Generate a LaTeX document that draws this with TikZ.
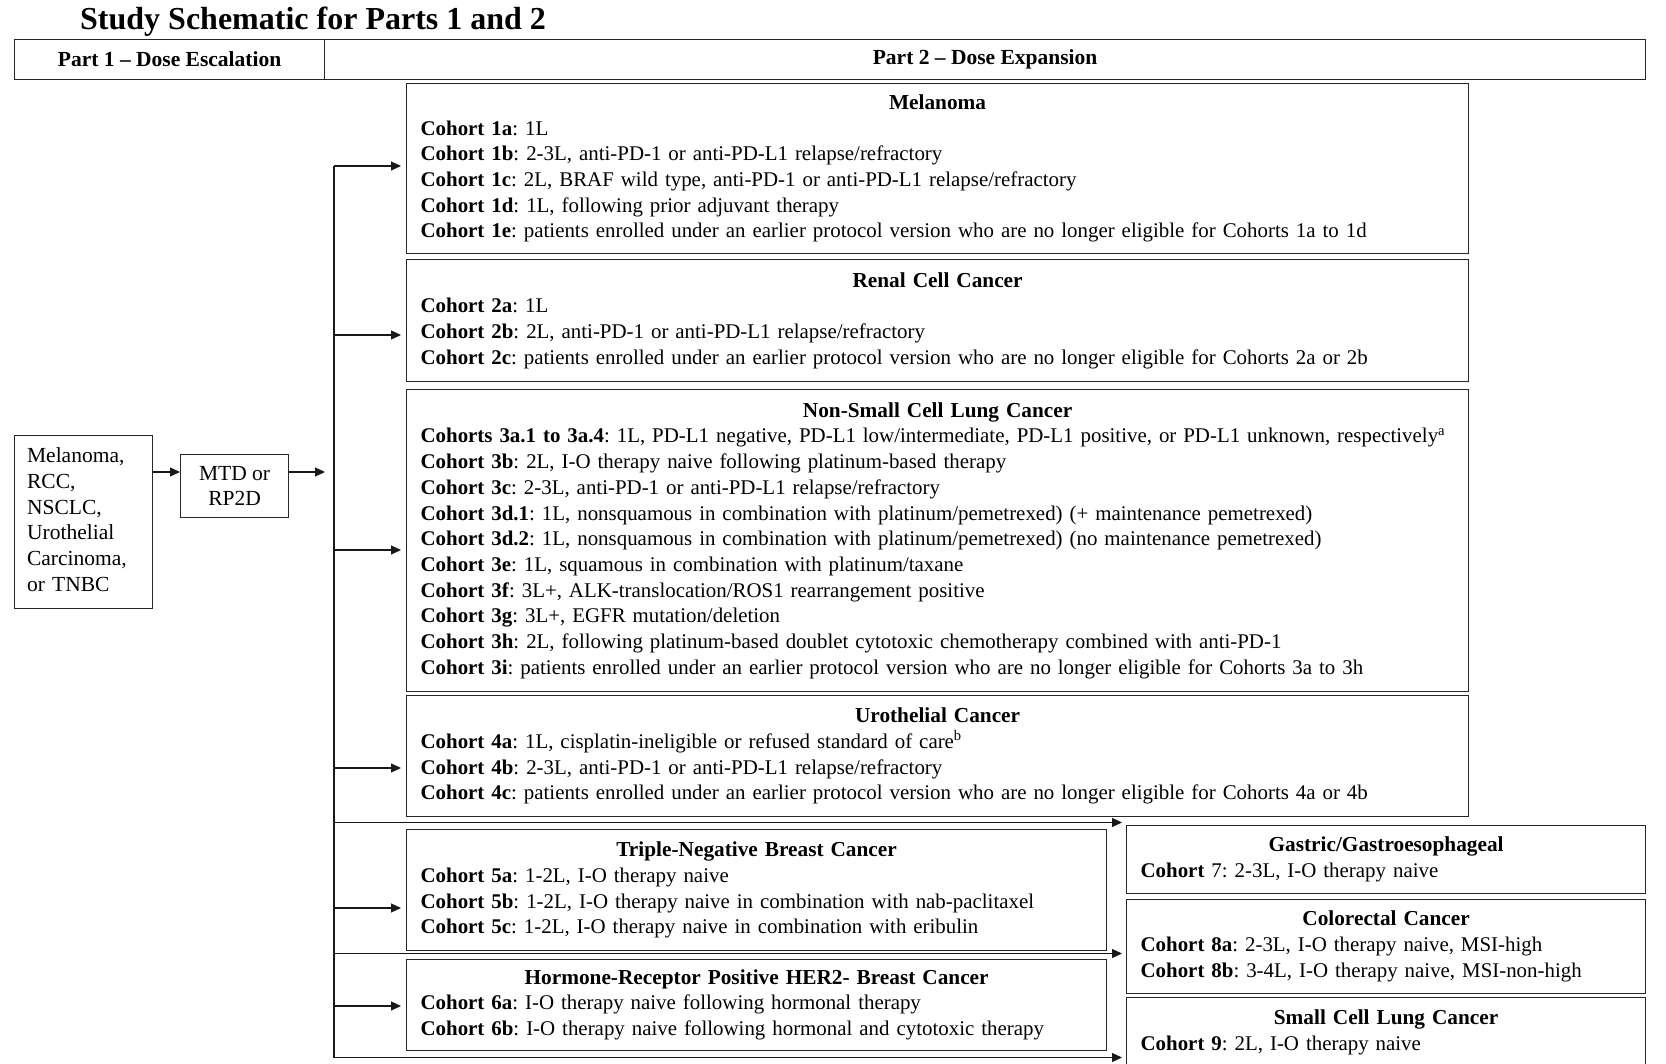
\documentclass[tikz,border=0pt]{standalone}
\usepackage{fontspec}
\setmainfont{Liberation Serif}
\usetikzlibrary{arrows.meta,calc}
\setlength\parindent{0pt}
\setlength\parskip{0pt}
\frenchspacing
\newcommand{\bxtitle}[1]{{\centering\fontsize{21.3}{25.7}\selectfont\bfseries\strut #1\par}}
\newcommand{\coh}[2]{\mbox{\strut\textbf{#1}: #2}\par}
\begin{document}
\begin{tikzpicture}[x=1pt,y=-1pt,
  every node/.style={font=\fontsize{21.5}{25.7}\selectfont},
  cbox/.style={draw=black!85, line width=1.2pt, anchor=north west, inner xsep=14pt, inner ysep=0pt, align=left, font=\fontsize{20.9}{25.7}\selectfont},
  hdr/.style={draw=black!85, line width=1.2pt, anchor=north west, inner sep=0pt, font=\fontsize{21.5}{25.7}\selectfont\bfseries},
  plain/.style={draw=black!85, line width=1.2pt, anchor=north west, inner sep=0pt},
  conn/.style={line width=1.2pt, draw=black!90},
  arr/.style={conn, -{Triangle[length=10pt,width=9pt]}}]
\useasboundingbox (0,0) rectangle (1666,1064);

% title
\node[anchor=base west, inner sep=0pt, font=\fontsize{32}{38}\selectfont\bfseries] (title) at (80,30) {Study Schematic for Parts 1 and 2};

% header
\node[hdr, minimum width=310, minimum height=40] (p1) at (14,39) {Part 1 – Dose Escalation};
\node[hdr, minimum width=1321, minimum height=40] (p2) at (324,39) {Part 2 – Dose Expansion};

% part 1 boxes
\node[plain, minimum width=138, minimum height=173, text width=113, inner xsep=12.5pt, align=left] (lb) at (14,435) {Melanoma,\\RCC,\\NSCLC,\\Urothelial\\Carcinoma,\\or TNBC\vspace{5pt}};
\node[plain, minimum width=108, minimum height=63, align=center] (mtd) at (180,454) {MTD or\\RP2D};

% cohort boxes
\node[cbox, minimum width=1062, text width=1034, minimum height=170] (mel) at (406,83) {%
\bxtitle{Melanoma}
\coh{Cohort 1a}{1L}
\coh{Cohort 1b}{2-3L, anti-PD-1 or anti-PD-L1 relapse/refractory}
\coh{Cohort 1c}{2L, BRAF wild type, anti-PD-1 or anti-PD-L1 relapse/refractory}
\coh{Cohort 1d}{1L, following prior adjuvant therapy}
\coh{Cohort 1e}{patients enrolled under an earlier protocol version who are no longer eligible for Cohorts 1a to 1d}};

\node[cbox, minimum width=1062, text width=1034, minimum height=122] (ren) at (406,259) {%
\bxtitle{Renal Cell Cancer}
\coh{Cohort 2a}{1L}
\coh{Cohort 2b}{2L, anti-PD-1 or anti-PD-L1 relapse/refractory}
\coh{Cohort 2c}{patients enrolled under an earlier protocol version who are no longer eligible for Cohorts 2a or 2b}};

\node[cbox, minimum width=1062, text width=1034, minimum height=302] (nsc) at (406,389) {%
\bxtitle{Non-Small Cell Lung Cancer}
\coh{Cohorts 3a.1 to 3a.4}{1L, PD-L1 negative, PD-L1 low/intermediate, PD-L1 positive, or PD-L1 unknown, respectively\textsuperscript{a}}
\coh{Cohort 3b}{2L, I-O therapy naive following platinum-based therapy}
\coh{Cohort 3c}{2-3L, anti-PD-1 or anti-PD-L1 relapse/refractory}
\coh{Cohort 3d.1}{1L, nonsquamous in combination with platinum/pemetrexed) (+ maintenance pemetrexed)}
\coh{Cohort 3d.2}{1L, nonsquamous in combination with platinum/pemetrexed) (no maintenance pemetrexed)}
\coh{Cohort 3e}{1L, squamous in combination with platinum/taxane}
\coh{Cohort 3f}{3L+, ALK-translocation/ROS1 rearrangement positive}
\coh{Cohort 3g}{3L+, EGFR mutation/deletion}
\coh{Cohort 3h}{2L, following platinum-based doublet cytotoxic chemotherapy combined with anti-PD-1}
\coh{Cohort 3i}{patients enrolled under an earlier protocol version who are no longer eligible for Cohorts 3a to 3h}};

\node[cbox, minimum width=1062, text width=1034, minimum height=121] (uro) at (406,695) {%
\bxtitle{Urothelial Cancer}
\coh{Cohort 4a}{1L, cisplatin-ineligible or refused standard of care\textsuperscript{b}}
\coh{Cohort 4b}{2-3L, anti-PD-1 or anti-PD-L1 relapse/refractory}
\coh{Cohort 4c}{patients enrolled under an earlier protocol version who are no longer eligible for Cohorts 4a or 4b}};

\node[cbox, minimum width=700, text width=672, minimum height=121] (tnbc) at (406,829) {%
\bxtitle{Triple-Negative Breast Cancer}
\coh{Cohort 5a}{1-2L, I-O therapy naive}
\coh{Cohort 5b}{1-2L, I-O therapy naive in combination with nab-paclitaxel}
\coh{Cohort 5c}{1-2L, I-O therapy naive in combination with eribulin}};

\node[cbox, minimum width=700, text width=672, minimum height=91] (hr) at (406,958.5) {%
\bxtitle{Hormone-Receptor Positive HER2- Breast Cancer}
\coh{Cohort 6a}{I-O therapy naive following hormonal therapy}
\coh{Cohort 6b}{I-O therapy naive following hormonal and cytotoxic therapy}};

\node[cbox, minimum width=519, text width=491, minimum height=68] (gas) at (1126,824.5) {%
\bxtitle{Gastric/Gastroesophageal}
\mbox{\strut\textbf{Cohort} 7: 2-3L, I-O therapy naive}\par};

\node[cbox, minimum width=519, text width=491, minimum height=93.5] (crc) at (1126,899) {%
\bxtitle{Colorectal Cancer}
\coh{Cohort 8a}{2-3L, I-O therapy naive, MSI-high}
\coh{Cohort 8b}{3-4L, I-O therapy naive, MSI-non-high}};

\node[cbox, minimum width=519, text width=491, minimum height=70] (sclc) at (1126,997) {%
\bxtitle{Small Cell Lung Cancer}
\coh{Cohort 9}{2L, I-O therapy naive}};

% part 1 arrows
\coordinate (m1) at (325,472);
\draw[arr] (lb.east |- m1) -- (mtd.west |- m1);
\draw[arr] (mtd.east |- m1) -- (m1);

% trunk
\coordinate (ttop) at (334,166);
\coordinate (tbot) at (334,1057.5);
\draw[conn] (ttop) -- (tbot);

\coordinate (a2) at (334,335);
\coordinate (a3) at (334,550);
\coordinate (a4) at (334,768);
\coordinate (a5) at (334,908);
\coordinate (a6) at (334,1006);
\coordinate (b1) at (334,822.5);
\coordinate (b2) at (334,953.5);

\draw[arr, shorten >=5pt] (ttop) -- (ttop -| mel.west);
\draw[arr, shorten >=5pt] (a2) -- (a2 -| ren.west);
\draw[arr, shorten >=5pt] (a3) -- (a3 -| nsc.west);
\draw[arr, shorten >=5pt] (a4) -- (a4 -| uro.west);
\draw[arr, shorten >=5pt] (a5) -- (a5 -| tnbc.west);
\draw[arr, shorten >=5pt] (a6) -- (a6 -| hr.west);
\draw[arr, shorten >=4pt] (b1) -- (b1 -| gas.west);
\draw[arr, shorten >=4pt] (b2) -- (b2 -| crc.west);
\draw[arr, shorten >=4pt] (tbot) -- (tbot -| sclc.west);
\end{tikzpicture}
\end{document}
